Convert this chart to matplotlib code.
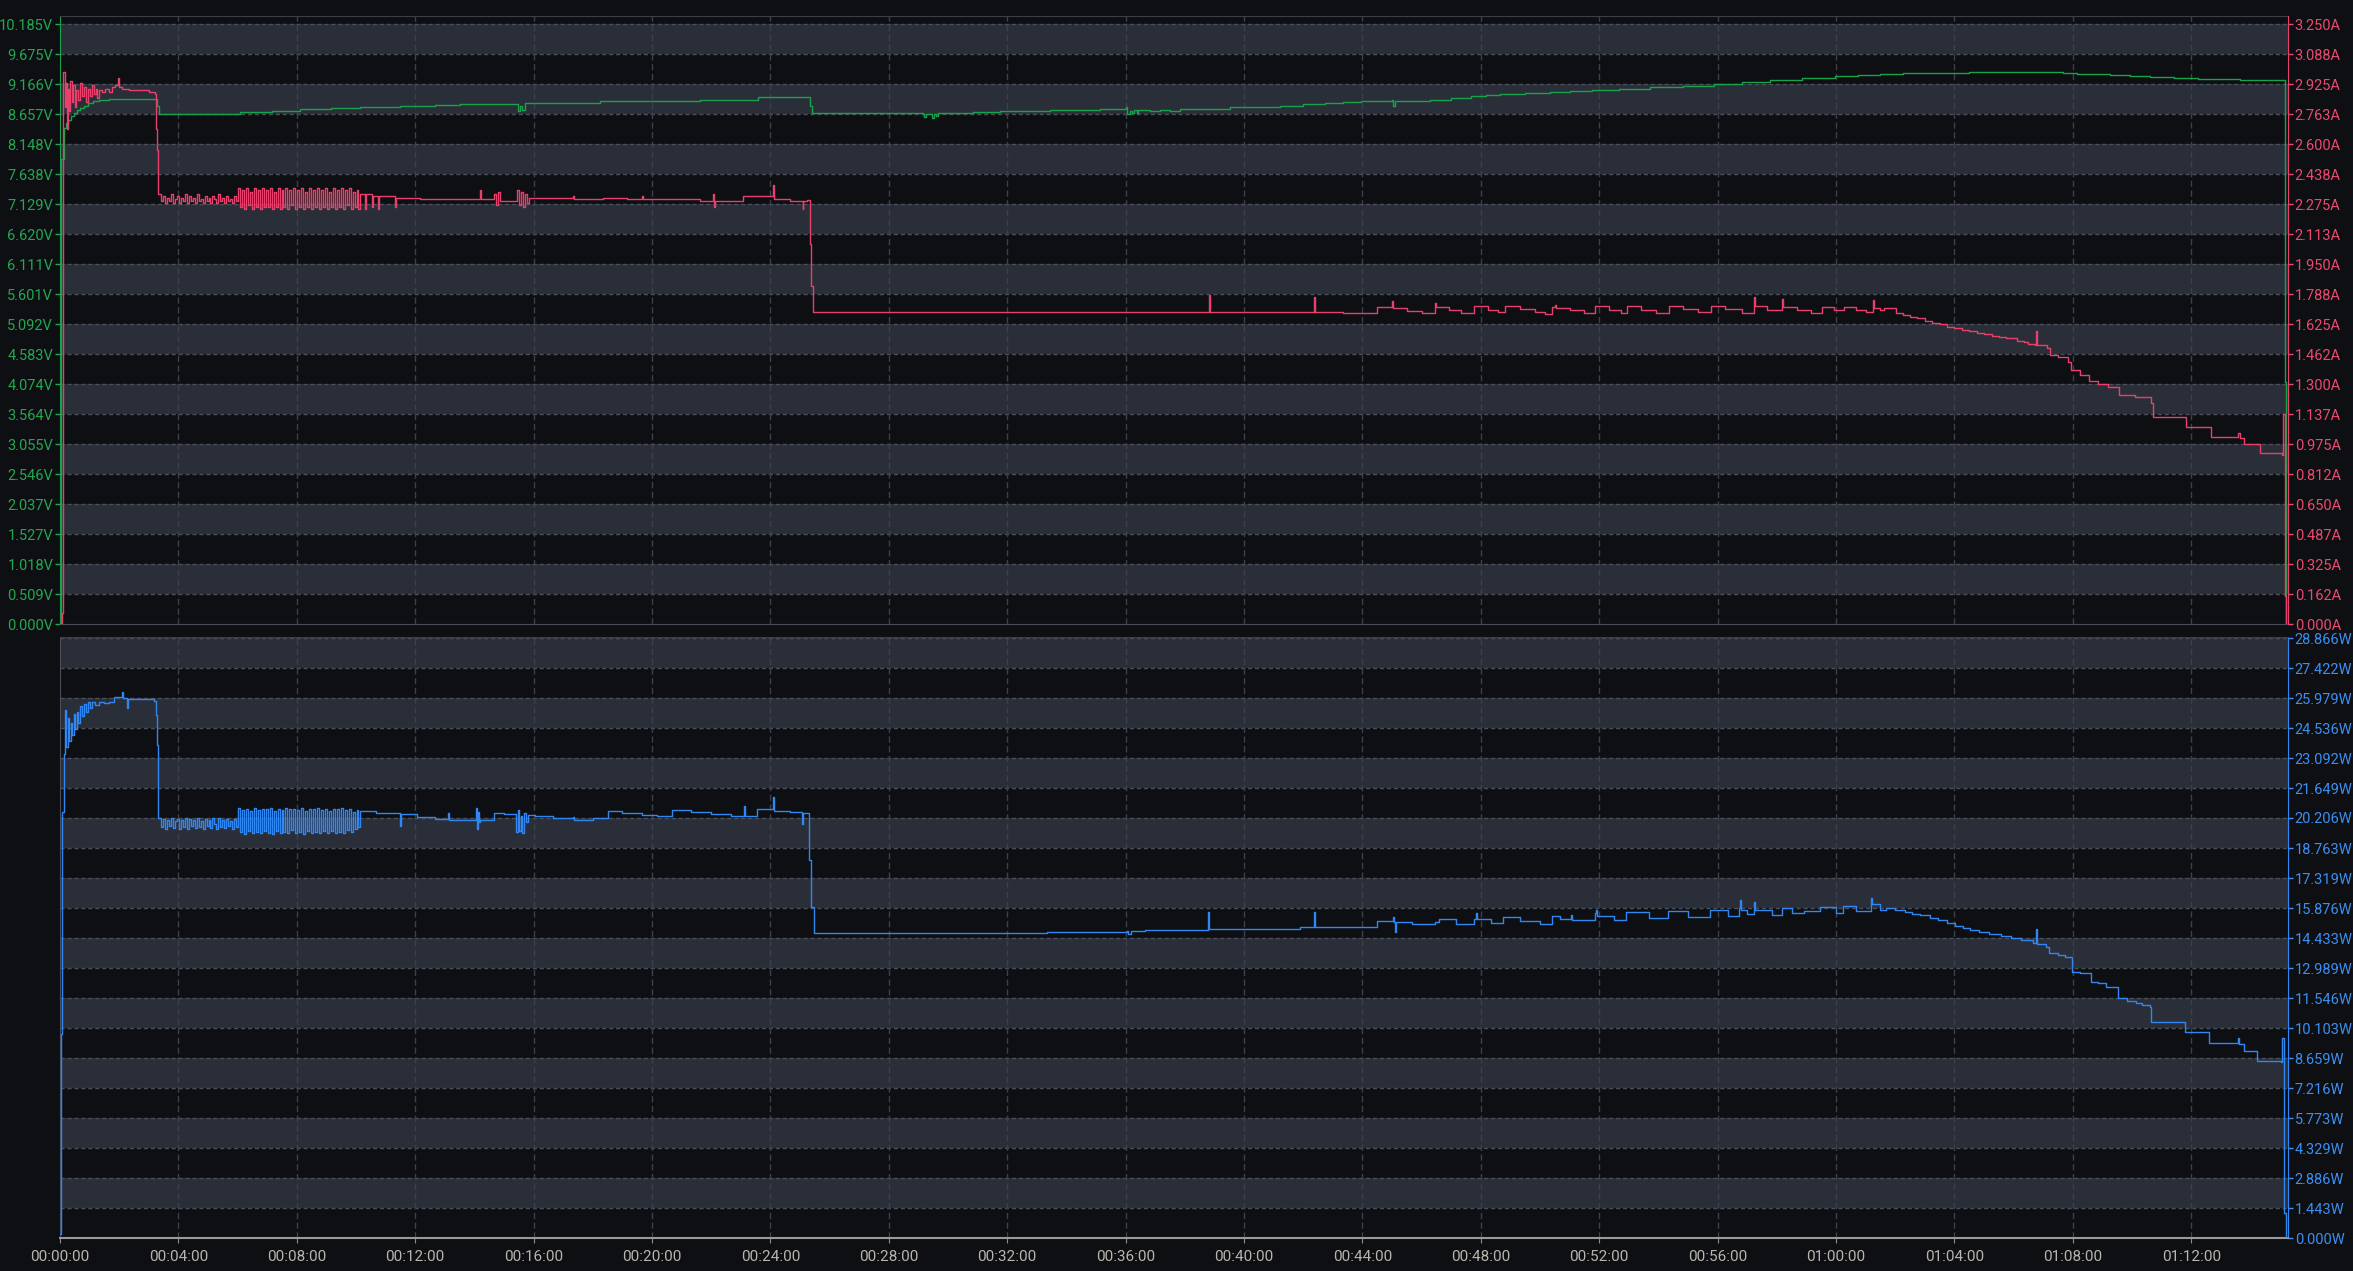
import matplotlib.pyplot as plt
import numpy as np

# ---- data (time in seconds) ----
# voltage [V]
volt = [(0, 0.0), (2, 7.90), (8, 8.42), (12, 8.50), (16, 8.55), (22, 8.62), (28, 8.67),
        (34, 8.72), (40, 8.76), (48, 8.80), (56, 8.84), (66, 8.87), (80, 8.89), (100, 8.91),
        (192, 8.91), (196, 8.80), (200, 8.65), (284, 8.66), (365, 8.69), (430, 8.71),
        (486, 8.74), (550, 8.76), (608, 8.78), (689, 8.80), (760, 8.81), (811, 8.82),
        (870, 8.82), (922, 8.83), (928, 8.70), (932, 8.79), (936, 8.72), (943, 8.84),
        (1000, 8.85), (1095, 8.87), (1200, 8.88), (1297, 8.90), (1415, 8.94), (1510, 8.94),
        (1521, 8.80), (1524, 8.68), (1600, 8.67), (1749, 8.66), (1751, 8.60), (1755, 8.66),
        (1768, 8.59), (1771, 8.66), (1776, 8.62), (1780, 8.67), (1794, 8.68), (1850, 8.69),
        (1905, 8.70), (1960, 8.71), (2007, 8.72), (2060, 8.73), (2108, 8.74), (2161, 8.77),
        (2163, 8.66), (2168, 8.71), (2172, 8.67), (2176, 8.72), (2182, 8.68), (2186, 8.72),
        (2209, 8.71), (2230, 8.73), (2250, 8.71), (2270, 8.74), (2311, 8.75), (2340, 8.74),
        (2372, 8.77), (2432, 8.78), (2473, 8.80), (2520, 8.82), (2564, 8.85), (2600, 8.86),
        (2637, 8.88), (2700, 8.89), (2702, 8.80), (2706, 8.88), (2777, 8.90), (2820, 8.93),
        (2860, 8.96), (2890, 8.98), (2919, 9.00), (2970, 9.01), (3020, 9.03), (3060, 9.045),
        (3105, 9.06), (3160, 9.085), (3223, 9.11), (3290, 9.14), (3353, 9.17), (3410, 9.20),
        (3466, 9.23), (3530, 9.265), (3598, 9.30), (3645, 9.315), (3690, 9.33), (3735, 9.345),
        (3782, 9.36), (3870, 9.365), (3967, 9.37), (4028, 9.37), (4060, 9.355), (4088, 9.34),
        (4120, 9.33), (4155, 9.32), (4195, 9.305), (4236, 9.29), (4285, 9.27), (4334, 9.25),
        (4380, 9.245), (4419, 9.24), (4506, 9.23), (4510, 4.10), (4512, 0.0)]

# current [A]
cur_head = [(0, 0.00), (4, 0.06), (7, 2.99), (10, 2.80), (12, 2.93), (14, 2.68), (16, 2.90),
            (18, 2.78), (21, 2.94), (24, 2.83), (27, 2.92), (30, 2.80), (33, 2.89), (36, 2.84),
            (40, 2.93), (44, 2.86), (48, 2.91), (52, 2.83), (56, 2.90), (60, 2.86), (64, 2.92),
            (68, 2.87), (72, 2.90), (76, 2.85), (80, 2.89), (86, 2.88), (92, 2.90), (100, 2.88),
            (106, 2.91), (112, 2.92), (118, 2.96), (120, 2.91), (126, 2.90), (140, 2.89),
            (160, 2.89), (180, 2.88), (193, 2.87), (195, 2.68), (197, 2.57), (199, 2.33)]
cur_noise1 = [2.33, 2.29, 2.32, 2.28, 2.31, 2.29, 2.33, 2.28, 2.30, 2.32, 2.28, 2.31, 2.29,
              2.33, 2.28, 2.32, 2.29, 2.31, 2.28, 2.33, 2.29, 2.30, 2.28, 2.32, 2.29, 2.31,
              2.28, 2.32, 2.30, 2.28, 2.33, 2.29, 2.31, 2.28, 2.32, 2.29, 2.30, 2.28, 2.32, 2.29]
cur_noise2 = [2.36, 2.26, 2.35, 2.25, 2.36, 2.27, 2.34, 2.25, 2.36, 2.26, 2.35, 2.25, 2.36,
              2.26, 2.35, 2.26, 2.36, 2.25, 2.34, 2.26, 2.36, 2.25, 2.35, 2.26, 2.36, 2.25,
              2.35, 2.27, 2.36, 2.25, 2.35, 2.26, 2.36, 2.25, 2.34, 2.26, 2.36, 2.25, 2.35,
              2.26, 2.36, 2.25, 2.35, 2.26, 2.36, 2.25, 2.34, 2.26, 2.36, 2.25, 2.35, 2.26,
              2.36, 2.25, 2.35, 2.27, 2.36, 2.25, 2.34, 2.26, 2.35, 2.25]
cur_tail = [(609, 2.33), (618, 2.25), (620, 2.33), (632, 2.26), (634, 2.32), (645, 2.25),
            (647, 2.32), (679, 2.26), (681, 2.31), (730, 2.30), (800, 2.30), (851, 2.35),
            (853, 2.30), (880, 2.33), (884, 2.27), (888, 2.34), (892, 2.29), (926, 2.35),
            (930, 2.27), (934, 2.34), (938, 2.26), (942, 2.33), (946, 2.28), (950, 2.31),
            (1040, 2.32), (1042, 2.30), (1100, 2.31), (1150, 2.30), (1180, 2.32), (1182, 2.30),
            (1297, 2.29), (1324, 2.33), (1326, 2.26), (1328, 2.29), (1385, 2.32), (1445, 2.38),
            (1447, 2.30), (1480, 2.29), (1505, 2.25), (1507, 2.29), (1515, 2.295), (1521, 2.06),
            (1523, 1.83), (1526, 1.692), (2329, 1.78), (2331, 1.692), (2542, 1.77), (2544, 1.692),
            (2601, 1.685), (2670, 1.716), (2700, 1.75), (2702, 1.71), (2730, 1.695), (2760, 1.683),
            (2787, 1.74), (2789, 1.715), (2815, 1.70), (2840, 1.685), (2867, 1.72), (2895, 1.70),
            (2915, 1.688), (2928, 1.72), (2960, 1.705), (2990, 1.69), (3010, 1.678), (3024, 1.715),
            (3030, 1.73), (3032, 1.71), (3060, 1.70), (3090, 1.685), (3112, 1.72), (3140, 1.70),
            (3165, 1.683), (3176, 1.72), (3205, 1.70), (3235, 1.685), (3262, 1.722), (3290, 1.705),
            (3320, 1.688), (3346, 1.72), (3375, 1.705), (3410, 1.685), (3434, 1.77), (3436, 1.72),
            (3460, 1.70), (3490, 1.76), (3492, 1.715), (3520, 1.70), (3550, 1.685), (3571, 1.715),
            (3595, 1.70), (3616, 1.717), (3640, 1.70), (3660, 1.69), (3674, 1.755), (3676, 1.71),
            (3690, 1.70), (3698, 1.712), (3721, 1.686), (3736, 1.676), (3750, 1.665), (3765, 1.655),
            (3780, 1.642), (3794, 1.632), (3810, 1.623), (3825, 1.611), (3840, 1.603), (3856, 1.593),
            (3870, 1.586), (3885, 1.577), (3900, 1.571), (3917, 1.562), (3930, 1.554), (3945, 1.547),
            (3966, 1.533), (3980, 1.526), (3990, 1.518), (4003, 1.511), (4006, 1.587), (4008, 1.511),
            (4028, 1.494), (4034, 1.457), (4050, 1.445), (4071, 1.421), (4077, 1.376), (4095, 1.35),
            (4113, 1.318), (4130, 1.300), (4151, 1.286), (4173, 1.240), (4206, 1.228), (4239, 1.196),
            (4243, 1.120), (4308, 1.120), (4310, 1.069), (4357, 1.069), (4359, 1.011), (4415, 1.035),
            (4418, 1.01), (4427, 0.975), (4460, 0.925), (4504, 0.915), (4506, 1.14), (4510, 0.15),
            (4512, 0.0)]

# power [W]
pow_head = [(0, 0.2), (2, 4.4), (3, 9.8), (5, 20.5), (8, 23.3), (10, 25.4), (13, 23.6),
            (16, 25.0), (19, 23.9), (22, 24.8), (25, 24.2), (28, 25.2), (31, 24.5), (34, 25.3),
            (37, 24.8), (40, 25.6), (44, 25.1), (48, 25.7), (52, 25.3), (56, 25.8), (60, 25.5),
            (64, 25.8), (70, 25.65), (80, 25.8), (90, 25.75), (100, 25.8), (110, 26.04),
            (126, 26.28), (128, 26.0), (136, 25.5), (138, 25.95), (145, 25.91), (191, 25.85),
            (194, 25.16), (196, 23.7), (198, 22.5), (199, 20.19)]
pow_noise1 = [20.2, 19.75, 20.15, 19.7, 20.1, 19.8, 20.2, 19.72, 20.05, 20.18, 19.7, 20.12,
              19.78, 20.2, 19.7, 20.15, 19.8, 20.1, 19.72, 20.2, 19.78, 20.05, 19.7, 20.18,
              19.8, 20.12, 19.72, 20.2, 19.9, 19.7, 20.2, 19.78, 20.1, 19.72, 20.18, 19.8,
              20.05, 19.7, 20.15, 19.78]
pow_noise2 = [20.67, 19.55, 20.6, 19.46, 20.65, 19.6, 20.55, 19.5, 20.67, 19.55, 20.6, 19.48,
              20.66, 19.58, 20.62, 19.5, 20.67, 19.46, 20.55, 19.6, 20.65, 19.5, 20.6, 19.55,
              20.67, 19.48, 20.62, 19.62, 20.66, 19.5, 20.6, 19.55, 20.67, 19.46, 20.55, 19.58,
              20.65, 19.5, 20.62, 19.55, 20.67, 19.5, 20.6, 19.58, 20.66, 19.48, 20.55, 19.6,
              20.65, 19.5, 20.62, 19.55, 20.67, 19.5, 20.6, 19.62, 20.66, 19.55, 20.5, 19.7,
              20.6, 19.75]
pow_tail = [(609, 20.55), (640, 20.45), (689, 19.8), (691, 20.4), (724, 20.27), (760, 20.15),
            (786, 20.45), (788, 20.13), (843, 20.7), (845, 19.7), (847, 20.5), (849, 20.0),
            (852, 20.1), (879, 20.43), (900, 20.40), (925, 19.55), (928, 20.6), (931, 19.6),
            (934, 20.3), (937, 19.5), (940, 20.45), (944, 20.0), (948, 20.35), (962, 20.3),
            (1000, 20.2), (1040, 20.25), (1042, 20.1), (1080, 20.2), (1110, 20.54), (1140, 20.45),
            (1180, 20.35), (1210, 20.28), (1241, 20.59), (1280, 20.5), (1320, 20.42), (1360, 20.32),
            (1386, 20.8), (1388, 20.3), (1412, 20.62), (1445, 21.2), (1447, 20.55), (1480, 20.5),
            (1504, 19.9), (1506, 20.45), (1515, 20.43), (1518, 18.18), (1522, 15.93), (1528, 14.65),
            (1700, 14.67), (1800, 14.68), (2000, 14.72), (2163, 14.76), (2165, 14.62), (2170, 14.78),
            (2200, 14.80), (2326, 15.68), (2328, 14.85), (2400, 14.88), (2514, 14.94), (2542, 15.67),
            (2544, 14.94), (2669, 15.26), (2701, 15.45), (2703, 15.21), (2706, 14.74), (2708, 15.2),
            (2740, 15.10), (2788, 15.21), (2795, 15.37), (2830, 15.10), (2867, 15.37), (2870, 15.62),
            (2872, 15.35), (2900, 15.15), (2925, 15.45), (2960, 15.25), (3000, 15.10), (3024, 15.49),
            (3040, 15.35), (3063, 15.56), (3065, 15.30), (3112, 15.62), (3114, 15.78), (3116, 15.50),
            (3150, 15.30), (3175, 15.67), (3220, 15.40), (3260, 15.73), (3300, 15.45), (3345, 15.78),
            (3380, 15.50), (3403, 15.86), (3405, 16.26), (3407, 15.80), (3420, 15.60), (3434, 16.18),
            (3436, 15.80), (3470, 15.55), (3490, 15.86), (3510, 15.65), (3535, 15.73), (3567, 15.91),
            (3600, 15.65), (3615, 15.97), (3640, 15.75), (3671, 16.34), (3673, 16.05), (3690, 15.80),
            (3701, 15.86), (3720, 15.78), (3740, 15.68), (3754, 15.61), (3770, 15.52), (3790, 15.40),
            (3806, 15.30), (3825, 15.15), (3842, 15.00), (3857, 14.90), (3871, 14.80), (3890, 14.72),
            (3910, 14.64), (3935, 14.53), (3955, 14.44), (3975, 14.32), (4000, 14.17), (4006, 14.86),
            (4008, 14.15), (4026, 14.01), (4032, 13.69), (4050, 13.60), (4065, 13.50), (4078, 12.81),
            (4095, 12.75), (4116, 12.33), (4130, 12.25), (4148, 12.09), (4171, 11.53), (4190, 11.40),
            (4207, 11.29), (4220, 11.20), (4237, 11.10), (4239, 10.38), (4307, 9.89), (4356, 9.37),
            (4414, 9.60), (4417, 9.35), (4427, 9.00), (4454, 8.51), (4502, 8.47), (4504, 9.6),
            (4508, 1.2), (4512, 0.0)]

NOISE1_START, NOISE2_START, SAMPLE_STEP = 201, 361, 4

v_labels = ['0.000V', '0.509V', '1.018V', '1.527V', '2.037V', '2.546V', '3.055V', '3.564V',
            '4.074V', '4.583V', '5.092V', '5.601V', '6.111V', '6.620V', '7.129V', '7.638V',
            '8.148V', '8.657V', '9.166V', '9.675V', '10.185V']
a_labels = ['0.000A', '0.162A', '0.325A', '0.487A', '0.650A', '0.812A', '0.975A', '1.137A',
            '1.300A', '1.462A', '1.625A', '1.788A', '1.950A', '2.113A', '2.275A', '2.438A',
            '2.600A', '2.763A', '2.925A', '3.088A', '3.250A']
w_labels = ['0.000W', '1.443W', '2.886W', '4.329W', '5.773W', '7.216W', '8.659W', '10.103W',
            '11.546W', '12.989W', '14.433W', '15.876W', '17.319W', '18.763W', '20.206W',
            '21.649W', '23.092W', '24.536W', '25.979W', '27.422W', '28.866W']
x_labels = ['00:00:00', '00:04:00', '00:08:00', '00:12:00', '00:16:00', '00:20:00', '00:24:00',
            '00:28:00', '00:32:00', '00:36:00', '00:40:00', '00:44:00', '00:48:00', '00:52:00',
            '00:56:00', '01:00:00', '01:04:00', '01:08:00', '01:12:00']
V_MAX, A_MAX, W_MAX, T_END = 10.185, 3.25, 28.866, 4516


def build(head, noise1, noise2, tail):
    t = [p[0] for p in head]
    y = [p[1] for p in head]
    t += [NOISE1_START + SAMPLE_STEP * i for i in range(len(noise1))]
    y += noise1
    t += [NOISE2_START + SAMPLE_STEP * i for i in range(len(noise2))]
    y += noise2
    t += [p[0] for p in tail]
    y += [p[1] for p in tail]
    return np.array(t), np.array(y)


BG = '#0e0f13'
BAND = '#2a2e39'
GRID = '#4a4e59'
VGRID = '#3c404a'
GREEN = '#16a34a'
RED = '#e8406a'
BLUE = '#3087f2'
GREEN_TXT = '#22a84f'
RED_TXT = '#ea4a6e'
BLUE_TXT = '#3b8ef2'
XTXT = '#b8b5ad'
FS = 10.5
TL = 3.6   # tick length in points (~5 px)
TP = 1.2   # label pad in points

plt.rcParams['font.family'] = ['Roboto', 'DejaVu Sans']

W, H = 2353, 1271
fig = plt.figure(figsize=(W / 100, H / 100), dpi=100, facecolor=BG)
L, R = 60 / W, 2288 / W
ax_v = fig.add_axes([L, 1 - 624 / H, R - L, 608 / H])
ax_a = ax_v.twinx()
ax_p = fig.add_axes([L, 1 - 1238 / H, R - L, 601 / H])

xt = np.arange(len(x_labels)) * 240


def bands(ax, vmax):
    step = vmax / 20
    for k in range(20):
        if k % 2 == 1:
            ax.axhspan(k * step, (k + 1) * step, color=BAND, lw=0, zorder=0)
        ax.axhline((k + 1) * step, color=GRID, lw=1, ls=(0, (3, 2)), zorder=1)
    for x in xt[1:]:
        ax.axvline(x, color=VGRID, lw=1, ls=(0, (4.5, 2.5)), zorder=1)


# top panel: voltage + current
ax_v.set_facecolor(BG)
bands(ax_v, V_MAX)
t_v = [p[0] for p in volt]
y_v = [p[1] for p in volt]
ax_v.plot(t_v, y_v, drawstyle='steps-post', color=GREEN, lw=1.0, zorder=3)
ax_v.set_xlim(0, T_END)
ax_v.set_ylim(0, V_MAX * 608 / 600)
ax_v.set_yticks(np.arange(21) * V_MAX / 20)
ax_v.set_yticklabels(v_labels)
ax_v.set_xticks(xt)
ax_v.tick_params(axis='x', length=0, labelbottom=False)
ax_v.tick_params(axis='y', colors=GREEN_TXT, labelsize=FS, length=TL, width=1, pad=TP)

t_a, y_a = build(cur_head, cur_noise1, cur_noise2, cur_tail)
ax_a.plot(t_a, y_a, drawstyle='steps-post', color=RED, lw=1.0, zorder=3)
ax_a.set_ylim(0, A_MAX * 608 / 600)
ax_a.set_yticks(np.arange(21) * A_MAX / 20)
ax_a.set_yticklabels(a_labels)
ax_a.tick_params(axis='y', colors=RED_TXT, labelsize=FS, length=TL, width=1, pad=TP)

for ax in (ax_v, ax_a):
    for s in ax.spines.values():
        s.set_visible(False)
ax_v.spines['left'].set_visible(True)
ax_v.spines['left'].set_color(GREEN)
ax_v.spines['top'].set_visible(True)
ax_v.spines['top'].set_color('#3b3e47')
ax_v.spines['bottom'].set_visible(True)
ax_v.spines['bottom'].set_color('#4a4d56')
ax_a.spines['right'].set_visible(True)
ax_a.spines['right'].set_color(RED)

# bottom panel: power
ax_p.set_facecolor(BG)
bands(ax_p, W_MAX)
t_p, y_p = build(pow_head, pow_noise1, pow_noise2, pow_tail)
ax_p.plot(t_p, y_p, drawstyle='steps-post', color=BLUE, lw=1.0, zorder=3)
ax_p.set_xlim(0, T_END)
ax_p.set_ylim(0, W_MAX * 601 / 600)
ax_p.yaxis.tick_right()
ax_p.set_yticks(np.arange(21) * W_MAX / 20)
ax_p.set_yticklabels(w_labels)
ax_p.tick_params(axis='y', colors=BLUE_TXT, labelsize=FS, length=TL, width=1, pad=TP)
ax_p.set_xticks(xt)
ax_p.set_xticklabels(x_labels)
ax_p.tick_params(axis='x', colors='#8c8c8c', labelcolor=XTXT, labelsize=FS + 0.5,
                 length=TL, pad=5)
ax_p.spines['left'].set_color('#4a4d56')
ax_p.spines['top'].set_color('#3b3e47')
ax_p.spines['bottom'].set_color('#9a9a9a')
ax_p.spines['bottom'].set_linewidth(1.5)
ax_p.spines['right'].set_color(BLUE)

fig.savefig('out.png', dpi=100, facecolor=BG)
